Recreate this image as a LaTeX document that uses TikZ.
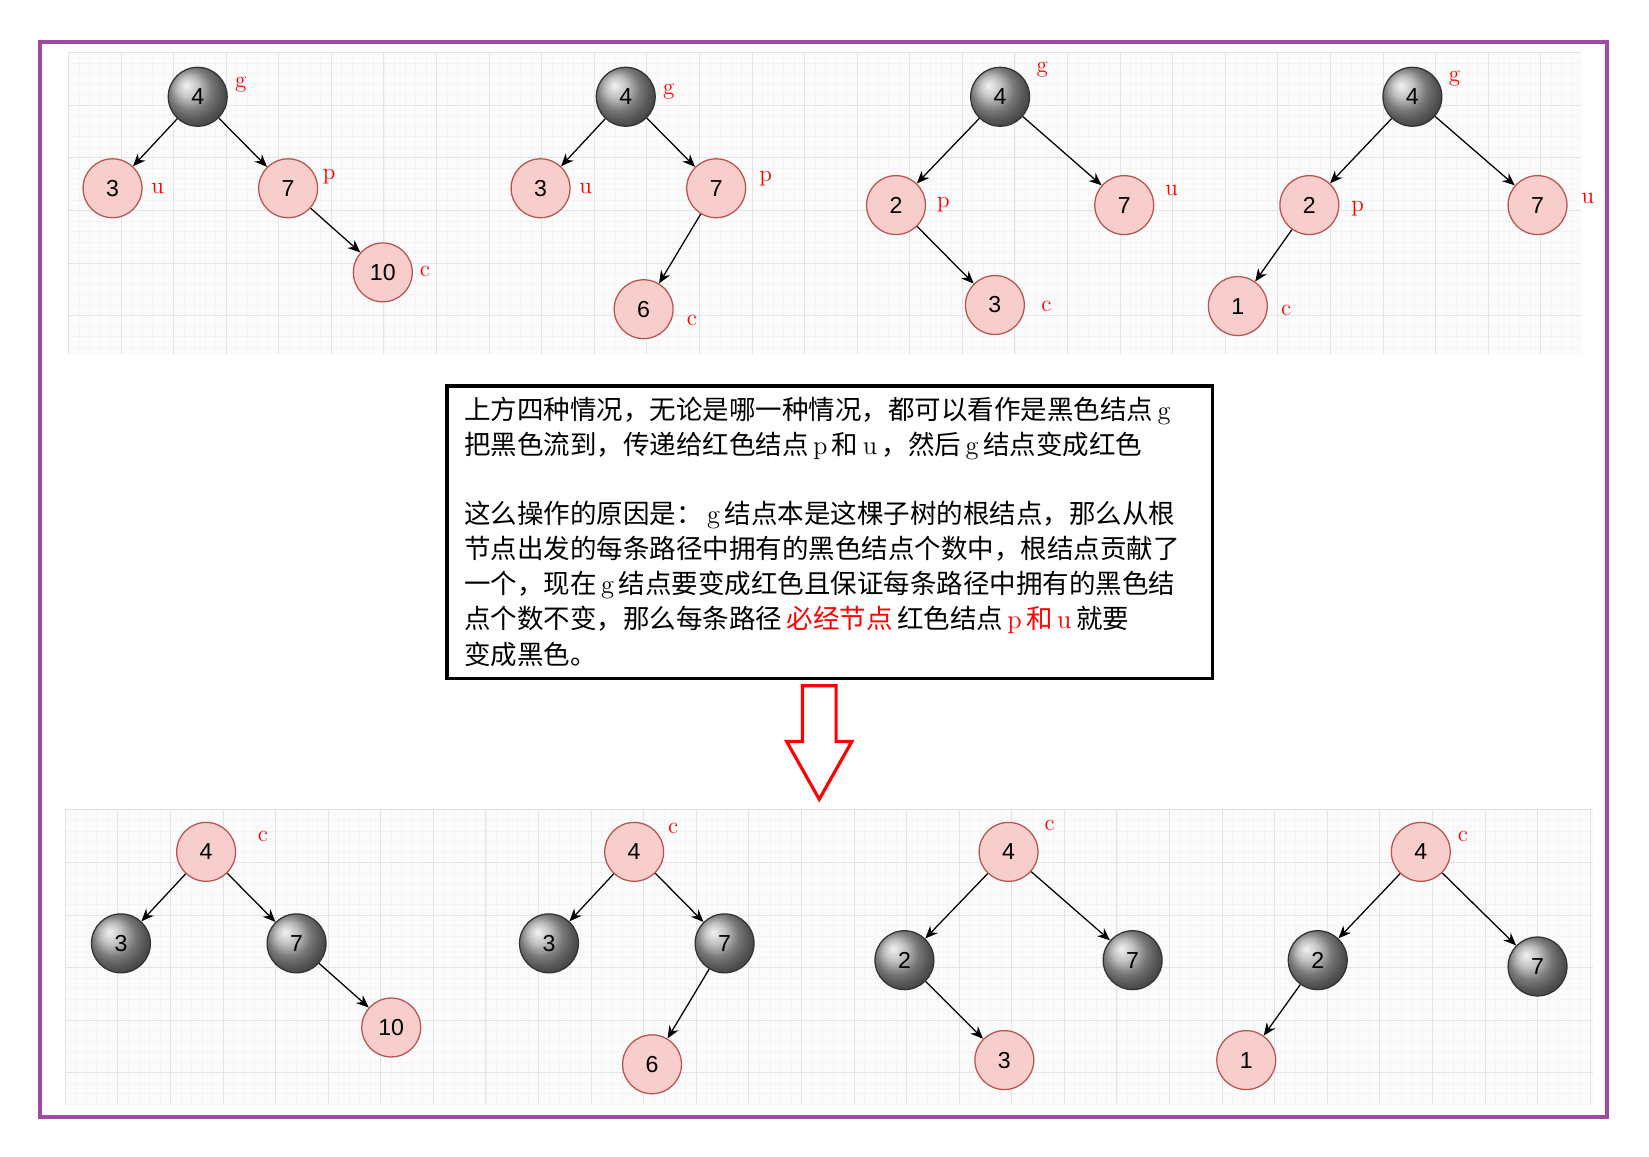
\documentclass[tikz,border=0pt]{standalone}
\usepackage{fontspec}
\newfontfamily\cjk{Noto Sans CJK SC}
\newfontfamily\numf{Liberation Sans}
\usetikzlibrary{arrows.meta,shadings}
\definecolor{purp}{HTML}{A04AA4}
\definecolor{rfill}{HTML}{F8CECC}
\definecolor{rdraw}{HTML}{B85450}
\tikzset{
 rn/.style={circle,minimum size=28pt,inner sep=0pt,fill=rfill,draw=rdraw,line width=0.6pt,font=\numf\fontsize{11}{11}\selectfont},
 bn/.style={circle,minimum size=28pt,inner sep=0pt,ball color=gray!65,draw=gray!40!black,line width=0.6pt,font=\numf\fontsize{11}{11}\selectfont},
 lab/.style={text=red,font=\fontsize{11}{11}\selectfont,inner sep=0pt},
 ed/.style={-{Stealth[length=6pt,width=5pt]},line width=0.6pt},
 tl/.style={anchor=west,inner sep=0pt,font=\cjk\fontsize{12.6}{12.6}\selectfont}
}
\newcommand{\lt}[1]{\,{\rmfamily #1}\,}
\begin{document}
\begin{tikzpicture}[x=0.5pt,y=-0.5pt]
\useasboundingbox (0,0) rectangle (1568,1100);
\fill[white] (0,0) rectangle (1568,1100);
% panels
\foreach \ya/\yb/\xa/\xb in {50/337/65/1503,770/1050/62/1515}{
 \fill[gray!3] (\xa,\ya) rectangle (\xb,\yb);
 \foreach \x in {0,10,...,1450}{\pgfmathparse{\xa+\x<=\xb}\ifnum\pgfmathresult=1 \draw[gray!9,line width=0.3pt] (\xa+\x,\ya) -- (\xa+\x,\yb);\fi}
 \foreach \y in {0,10,...,280}{\pgfmathparse{\ya+\y<=\yb}\ifnum\pgfmathresult=1 \draw[gray!9,line width=0.3pt] (\xa,\ya+\y) -- (\xb,\ya+\y);\fi}
 \foreach \x in {0,50,...,1450}{\pgfmathparse{\xa+\x<=\xb}\ifnum\pgfmathresult=1 \draw[gray!22,line width=0.4pt] (\xa+\x,\ya) -- (\xa+\x,\yb);\fi}
 \foreach \y in {0,50,...,280}{\pgfmathparse{\ya+\y<=\yb}\ifnum\pgfmathresult=1 \draw[gray!22,line width=0.4pt] (\xa,\ya+\y) -- (\xb,\ya+\y);\fi}
}
\draw[purp,line width=2pt] (38,40) rectangle (1528,1062);
% text box
\draw[black,line width=1.6pt,fill=white] (425,367) rectangle (1153,645);
\node[tl] (t1) at (441,391) {上方四种情况，无论是哪一种情况，都可以看作是黑色结点\lt{g}};
\node[tl] (t2) at (441,424) {把黑色流到，传递给红色结点\lt{p}和\lt{u}，然后\lt{g}结点变成红色};
\node[tl] (t3) at (441,490) {这么操作的原因是：\lt{g}结点本是这棵子树的根结点，那么从根};
\node[tl] (t4) at (441,522) {节点出发的每条路径中拥有的黑色结点个数中，根结点贡献了};
\node[tl] (t5) at (441,556) {一个，现在\lt{g}结点要变成红色且保证每条路径中拥有的黑色结};
\node[tl] (t6) at (441,589) {点个数不变，那么每条路径\,\textcolor{red}{必经节点}\,红色结点\textcolor{red}{\lt{p}和\lt{u}}就要};
\node[tl] (t7) at (441,622) {变成黑色。};
% arrow
\draw[red,line width=1.5pt,fill=white] (763,652) -- (795,652) -- (795,705) -- (810,705) -- (779,760) -- (748,705) -- (763,705) -- cycle;
% top trees
\node[bn] (a4) at (188,92) {4}; \node[lab] at (229,80) {g};
\node[rn] (a3) at (107,179) {3}; \node[lab] at (150,179) {u};
\node[rn] (a7) at (274,179) {7}; \node[lab] at (313,168) {p};
\node[rn] (a10) at (364,259) {10}; \node[lab] at (404,258) {c};
\draw[ed] (a4)--(a3); \draw[ed] (a4)--(a7); \draw[ed] (a7)--(a10);
\node[bn] (b4) at (595,92) {4}; \node[lab] at (636,87) {g};
\node[rn] (b3) at (514,179) {3}; \node[lab] at (557,179) {u};
\node[rn] (b7) at (681,179) {7}; \node[lab] at (728,170) {p};
\node[rn] (b6) at (612,294) {6}; \node[lab] at (658,305) {c};
\draw[ed] (b4)--(b3); \draw[ed] (b4)--(b7); \draw[ed] (b7)--(b6);
\node[bn] (c4) at (951,92) {4}; \node[lab] at (991,66) {g};
\node[rn] (c2) at (852,195) {2}; \node[lab] at (897,195) {p};
\node[rn] (c7) at (1069,195) {7}; \node[lab] at (1114,181) {u};
\node[rn] (c3) at (946,290) {3}; \node[lab] at (995,291) {c};
\draw[ed] (c4)--(c2); \draw[ed] (c4)--(c7); \draw[ed] (c2)--(c3);
\node[bn] (d4) at (1343,92) {4}; \node[lab] at (1383,75) {g};
\node[rn] (d2) at (1245,195) {2}; \node[lab] at (1291,198) {p};
\node[rn] (d7) at (1462,195) {7}; \node[lab] at (1510,189) {u};
\node[rn] (d1) at (1177,291) {1}; \node[lab] at (1223,295) {c};
\draw[ed] (d4)--(d2); \draw[ed] (d4)--(d7); \draw[ed] (d2)--(d1);
% bottom trees
\node[rn] (e4) at (196,810) {4}; \node[lab] at (250,795) {c};
\node[bn] (e3) at (115,897) {3};
\node[bn] (e7) at (282,897) {7};
\node[rn] (e10) at (372,977) {10};
\draw[ed] (e4)--(e3); \draw[ed] (e4)--(e7); \draw[ed] (e7)--(e10);
\node[rn] (f4) at (603,810) {4}; \node[lab] at (640,788) {c};
\node[bn] (f3) at (522,897) {3};
\node[bn] (f7) at (689,897) {7};
\node[rn] (f6) at (620,1012) {6};
\draw[ed] (f4)--(f3); \draw[ed] (f4)--(f7); \draw[ed] (f7)--(f6);
\node[rn] (g4) at (959,810) {4}; \node[lab] at (998,785) {c};
\node[bn] (g2) at (860,913) {2};
\node[bn] (g7) at (1077,913) {7};
\node[rn] (g3) at (955,1008) {3};
\draw[ed] (g4)--(g2); \draw[ed] (g4)--(g7); \draw[ed] (g2)--(g3);
\node[rn] (h4) at (1351,810) {4}; \node[lab] at (1391,795) {c};
\node[bn] (h2) at (1253,913) {2};
\node[bn] (h7) at (1462,919) {7};
\node[rn] (h1) at (1185,1008) {1};
\draw[ed] (h4)--(h2); \draw[ed] (h4)--(h7); \draw[ed] (h2)--(h1);
\end{tikzpicture}
\end{document}
